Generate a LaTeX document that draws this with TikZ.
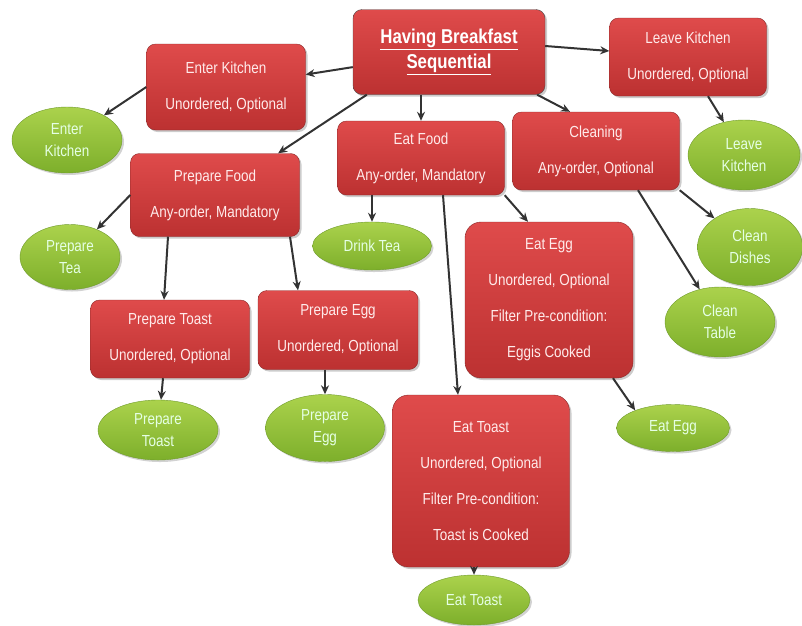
\documentclass[tikz,border=0pt]{standalone}
\usepackage{fontspec}
\newfontfamily\boxfont{Liberation Sans}[FakeStretch=0.84]
\usetikzlibrary{shapes.geometric,shadows,arrows.meta}
\definecolor{boxtop}{HTML}{DF4B4B}
\definecolor{boxbot}{HTML}{BC3131}
\definecolor{boxline}{HTML}{8A2A2A}
\definecolor{elltop}{HTML}{ABD24C}
\definecolor{ellbot}{HTML}{7DAF2B}
\definecolor{ellline}{HTML}{6F9B2C}
\definecolor{linkgray}{HTML}{333333}
\tikzset{
  task/.style={rectangle, rounded corners=9pt, draw=boxline, top color=boxtop, bottom color=boxbot,
    drop shadow={shadow xshift=2pt, shadow yshift=-2pt, fill=black!40},
    text=white!92!red, align=center, font=\boxfont\fontsize{16}{36}\selectfont,
    minimum width=160pt, minimum height=80pt},
  leaf/.style={ellipse, draw=ellline, top color=elltop, bottom color=ellbot,
    drop shadow={shadow xshift=2pt, shadow yshift=-2pt, fill=black!35},
    text=white!90!green, align=center, font=\boxfont\fontsize{16}{22}\selectfont, inner sep=0pt},
  link/.style={draw=linkgray, line width=2pt, -{Stealth[length=9pt,width=8pt]}}
}
\begin{document}
\begin{tikzpicture}[x=1pt,y=-1pt]
    \useasboundingbox (0,0) rectangle (802,625);

    % task boxes
    \node[task, draw=black!70, minimum width=192pt, minimum height=85pt,
      font=\boxfont\bfseries\fontsize{20}{25}\selectfont, text=white] (root) at (449,52)
      {\underline{Having Breakfast}\\\underline{Sequential}};
    \node[task, minimum width=159pt, minimum height=86pt] (enterK) at (226,87) {Enter Kitchen\\Unordered, Optional};
    \node[task, minimum width=157pt, minimum height=78pt] (leaveK) at (688,57) {Leave Kitchen\\Unordered, Optional};
    \node[task, minimum width=169pt, minimum height=83pt] (prepFood) at (215,195) {Prepare Food\\Any-order, Mandatory};
    \node[task, minimum width=167pt, minimum height=74pt] (eatFood) at (421,158) {Eat Food\\Any-order, Mandatory};
    \node[task, minimum width=167pt, minimum height=78pt] (cleaning) at (596,151) {Cleaning\\Any-order, Optional};
    \node[task, minimum width=168pt, minimum height=156pt, rounded corners=16pt] (eatEgg) at (549,300)
      {Eat Egg\\Unordered, Optional\\Filter Pre-condition:\\Eggis Cooked};
    \node[task, minimum width=159pt, minimum height=78pt] (prepToast) at (170,339) {Prepare Toast\\Unordered, Optional};
    \node[task, minimum width=160pt, minimum height=79pt] (prepEgg) at (338,330) {Prepare Egg\\Unordered, Optional};
    \node[task, minimum width=177pt, minimum height=172pt, rounded corners=16pt] (eatToast) at (481,481)
      {Eat Toast\\Unordered, Optional\\Filter Pre-condition:\\Toast is Cooked};

    % leaves
    \node[leaf, minimum width=110pt, minimum height=66pt] (enterEll) at (67,140) {Enter\\Kitchen};
    \node[leaf, minimum width=112pt, minimum height=70pt] (leaveEll) at (744,155) {Leave\\Kitchen};
    \node[leaf, minimum width=100pt, minimum height=65pt] (teaEll) at (70,257) {Prepare\\Tea};
    \node[leaf, minimum width=119pt, minimum height=48pt] (drinkEll) at (372,246) {Drink Tea};
    \node[leaf, minimum width=105pt, minimum height=77pt] (dishesEll) at (750,247) {Clean\\Dishes};
    \node[leaf, minimum width=110pt, minimum height=70pt] (tableEll) at (720,322) {Clean\\Table};
    \node[leaf, minimum width=120pt, minimum height=60pt] (toastEll) at (158,430) {Prepare\\Toast};
    \node[leaf, minimum width=119pt, minimum height=67pt] (eggEll) at (325,428) {Prepare\\Egg};
    \node[leaf, minimum width=113pt, minimum height=47pt] (eatEggEll) at (673,428) {Eat Egg};
    \node[leaf, minimum width=112pt, minimum height=50pt] (eatToastEll) at (474,600) {Eat Toast};

    % links
    \draw[link] (root) -- (enterK);
    \draw[link] ([xshift=14pt]root.south west) -- (prepFood);
    \draw[link] (eatFood.north |- root.south) -- (eatFood.north);
    \draw[link] ([xshift=-8pt]root.south east) -- ([xshift=-26pt]cleaning.north);
    \draw[link] ([yshift=6pt]root.east) -- ([yshift=6pt]leaveK.west);
    \draw[link] (enterK.west) -- (enterEll);
    \draw[link] ([xshift=20pt]leaveK.south) -- (leaveEll);
    \draw[link] (prepFood.west) -- (teaEll);
    \draw[link] ([xshift=-47pt]prepFood.south) -- ([xshift=-6pt]prepToast.north);
    \draw[link] ([xshift=75pt]prepFood.south) -- ([xshift=-40pt]prepEgg.north);
    \draw[link] (drinkEll.north |- eatFood.south) -- (drinkEll.north);
    \draw[link] (eatFood.south east) -- ([xshift=-21pt]eatEgg.north);
    \draw[link] ([xshift=22pt]eatFood.south) -- ([xshift=-23pt]eatToast.north);
    \draw[link] (cleaning.south east) -- (dishesEll);
    \draw[link] ([xshift=42pt]cleaning.south) -- (tableEll);
    \draw[link] ([xshift=-7pt]prepToast.south) -- ([xshift=3pt]toastEll.north);
    \draw[link] (eggEll.north |- prepEgg.south) -- (eggEll.north);
    \draw[link] ([xshift=64pt]eatEgg.south) -- (eatEggEll.155);
    \draw[link] (eatToastEll.north |- eatToast.south) -- (eatToastEll.north);
\end{tikzpicture}
\end{document}
